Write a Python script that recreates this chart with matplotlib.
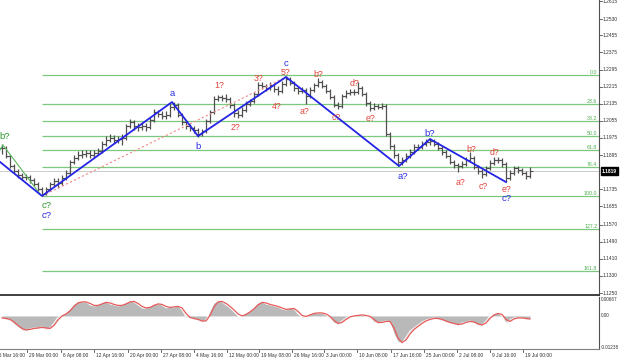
import matplotlib
matplotlib.use("Agg")
import matplotlib.pyplot as plt
import matplotlib.transforms as mtransforms
import numpy as np

# ---------------- data ----------------
closes = [1.1928, 1.1891, 1.1844, 1.1821, 1.1802, 1.1793, 1.1793, 1.1778, 1.1760, 1.1736,
          1.1713, 1.1736, 1.1760, 1.1774, 1.1764, 1.1788, 1.1811, 1.1863, 1.1881, 1.1895,
          1.1900, 1.1905, 1.1895, 1.1905, 1.1914, 1.1947, 1.1966, 1.1975, 1.1966, 1.1970,
          1.1975, 1.2031, 1.2050, 1.2031, 1.2026, 1.2031, 1.2026, 1.2059, 1.2096, 1.2087,
          1.2078, 1.2082, 1.2120, 1.2129, 1.2082, 1.2050, 1.2031, 1.2022, 1.2012, 1.1994,
          1.2008, 1.2054, 1.2096, 1.2157, 1.2167, 1.2162, 1.2157, 1.2129, 1.2092, 1.2082,
          1.2106, 1.2134, 1.2148, 1.2181, 1.2223, 1.2218, 1.2209, 1.2223, 1.2204, 1.2195,
          1.2227, 1.2251, 1.2232, 1.2209, 1.2195, 1.2199, 1.2171, 1.2199, 1.2223, 1.2237,
          1.2218, 1.2195, 1.2167, 1.2129, 1.2124, 1.2171, 1.2185, 1.2190, 1.2190, 1.2209,
          1.2181, 1.2139, 1.2115, 1.2124, 1.2120, 1.2124, 1.1994, 1.1937, 1.1895, 1.1863,
          1.1872, 1.1891, 1.1909, 1.1933, 1.1933, 1.1947, 1.1956, 1.1961, 1.1947, 1.1928,
          1.1909, 1.1891, 1.1863, 1.1849, 1.1844, 1.1853, 1.1872, 1.1881, 1.1839, 1.1821,
          1.1807, 1.1835, 1.1858, 1.1872, 1.1872, 1.1853, 1.1788, 1.1811, 1.1835, 1.1825,
          1.1811, 1.1797, 1.1819]

highs = [1.1947, 1.1937, 1.1895, 1.1853, 1.1830, 1.1811, 1.1807, 1.1802, 1.1788, 1.1769,
         1.1746, 1.1746, 1.1769, 1.1788, 1.1788, 1.1802, 1.1825, 1.1872, 1.1895, 1.1914,
         1.1919, 1.1919, 1.1919, 1.1919, 1.1928, 1.1961, 1.1984, 1.1994, 1.1989, 1.1984,
         1.1994, 1.2040, 1.2064, 1.2059, 1.2045, 1.2050, 1.2045, 1.2073, 1.2110, 1.2106,
         1.2101, 1.2101, 1.2134, 1.2143, 1.2139, 1.2092, 1.2059, 1.2040, 1.2031, 1.2022,
         1.2017, 1.2064, 1.2106, 1.2171, 1.2176, 1.2176, 1.2181, 1.2167, 1.2139, 1.2106,
         1.2120, 1.2148, 1.2157, 1.2190, 1.2237, 1.2237, 1.2227, 1.2237, 1.2232, 1.2218,
         1.2241, 1.2265, 1.2260, 1.2241, 1.2218, 1.2213, 1.2209, 1.2213, 1.2232, 1.2255,
         1.2246, 1.2227, 1.2204, 1.2176, 1.2143, 1.2181, 1.2199, 1.2204, 1.2204, 1.2237,
         1.2218, 1.2190, 1.2148, 1.2139, 1.2134, 1.2139, 1.2134, 1.2003, 1.1947, 1.1905,
         1.1886, 1.1905, 1.1923, 1.1947, 1.1947, 1.1961, 1.1970, 1.1975, 1.1970, 1.1956,
         1.1937, 1.1919, 1.1900, 1.1872, 1.1858, 1.1867, 1.1886, 1.1909, 1.1891, 1.1849,
         1.1830, 1.1844, 1.1872, 1.1886, 1.1886, 1.1881, 1.1863, 1.1825, 1.1844, 1.1844,
         1.1835, 1.1821, 1.1839]

lows = [1.1900, 1.1881, 1.1835, 1.1811, 1.1788, 1.1778, 1.1778, 1.1764, 1.1750, 1.1727,
        1.1704, 1.1708, 1.1727, 1.1750, 1.1741, 1.1755, 1.1778, 1.1802, 1.1853, 1.1872,
        1.1881, 1.1886, 1.1881, 1.1881, 1.1895, 1.1905, 1.1937, 1.1956, 1.1951, 1.1951,
        1.1942, 1.1966, 1.2022, 1.2012, 1.2008, 1.2012, 1.2008, 1.2017, 1.2050, 1.2073,
        1.2064, 1.2064, 1.2073, 1.2106, 1.2073, 1.2036, 1.2017, 1.2008, 1.1998, 1.1980,
        1.1984, 1.1998, 1.2045, 1.2087, 1.2148, 1.2148, 1.2143, 1.2115, 1.2073, 1.2068,
        1.2073, 1.2096, 1.2124, 1.2139, 1.2171, 1.2204, 1.2195, 1.2199, 1.2190, 1.2176,
        1.2185, 1.2218, 1.2223, 1.2195, 1.2181, 1.2185, 1.2134, 1.2162, 1.2190, 1.2213,
        1.2209, 1.2185, 1.2157, 1.2120, 1.2110, 1.2115, 1.2162, 1.2176, 1.2176, 1.2181,
        1.2171, 1.2124, 1.2101, 1.2106, 1.2110, 1.2110, 1.1984, 1.1923, 1.1881, 1.1844,
        1.1849, 1.1863, 1.1881, 1.1900, 1.1919, 1.1923, 1.1937, 1.1942, 1.1937, 1.1919,
        1.1895, 1.1881, 1.1853, 1.1835, 1.1816, 1.1835, 1.1844, 1.1863, 1.1830, 1.1807,
        1.1788, 1.1797, 1.1825, 1.1849, 1.1858, 1.1839, 1.1769, 1.1778, 1.1802, 1.1811,
        1.1802, 1.1783, 1.1788]

osc = [-0.00079, -0.00119, -0.00159, -0.00318, -0.00437, -0.00556, -0.00556, -0.00516, -0.00476, -0.00476,
       -0.00437, -0.00516, -0.00476, -0.00278, -0.00040, 0.00040, 0.00119, 0.00278, 0.00476, 0.00556,
       0.00556, 0.00556, 0.00437, 0.00397, 0.00437, 0.00516, 0.00556, 0.00476, 0.00437, 0.00397,
       0.00437, 0.00516, 0.00596, 0.00556, 0.00437, 0.00318, 0.00318, 0.00357, 0.00476, 0.00476,
       0.00437, 0.00318, 0.00357, 0.00357, 0.00397, 0.00238, -0.00040, -0.00079, -0.00119, -0.00159,
       -0.00238, -0.00159, 0.00199, 0.00516, 0.00596, 0.00556, 0.00437, 0.00318, 0.00159, 0.0,
       0.0, 0.00119, 0.00199, 0.00357, 0.00516, 0.00556, 0.00476, 0.00437, 0.00397, 0.00357,
       0.00278, 0.00238, 0.00318, 0.00278, 0.00079, -0.00040, 0.0, 0.00079, 0.00119, 0.00119,
       0.00119, 0.00040, -0.00079, -0.00278, -0.00318, -0.00199, -0.00079, 0.0, 0.0, 0.00040,
       0.00040, 0.0, -0.00040, -0.00238, -0.00278, -0.00238, -0.00199, -0.00238, -0.00715, -0.01032,
       -0.01072, -0.00834, -0.00596, -0.00476, -0.00357, -0.00238, -0.00159, -0.00119, -0.00079, -0.00119,
       -0.00159, -0.00238, -0.00278, -0.00318, -0.00357, -0.00278, -0.00238, -0.00199, -0.00278, -0.00357,
       -0.00357, -0.00199, 0.0, 0.00079, 0.00119, 0.0, -0.00278, -0.00159, -0.00079, -0.00079,
       -0.00079, -0.00119, -0.00119]

# wave structure (blue)
wave_bars = [-0.5, 10, 42.5, 49, 71, 99.25, 107, 126]
wave_prices = [1.1863, 1.1704, 1.2143, 1.1984, 1.2260, 1.1844, 1.1970, 1.1769]
# previous wave (green)
green_bars = [-0.5, 0.25, 9.5]
green_prices = [1.1919, 1.1942, 1.1713]
# dotted channel line (red)
dotted_bars = [10, 71]
dotted_prices = [1.1704, 1.2260]

# fibonacci grid
fib_levels = [0.0, 23.6, 38.2, 50.0, 61.8, 76.4, 100.0, 127.2, 161.8]
fib_high = 1.2269
fib_low = 1.1704
fib_start_bar = 10

# labels: (bar, price, text)
blue_labels = [(42.5, 1.2185, "a"), (49, 1.1937, "b"), (71, 1.2325, "c"),
               (100.25, 1.1793, "a?"), (107, 1.1998, "b?"), (126.25, 1.1694, "c?"),
               (11.25, 1.1614, "c?")]
green_labels = [(0.75, 1.1980, "b?"), (11.25, 1.1660, "c?")]
red_labels = [(54.25, 1.2218, "1?"), (58.25, 1.2026, "2?"), (64.25, 1.2255, "3?"),
              (68.75, 1.2120, "4?"), (71, 1.2283, "5?"), (75.75, 1.2101, "a?"),
              (79, 1.2274, "b?"), (83.5, 1.2073, "c?"), (88, 1.2232, "d?"),
              (92.25, 1.2068, "e?"), (114.75, 1.1769, "a?"), (117.25, 1.1923, "b?"),
              (120.25, 1.1746, "c?"), (123.25, 1.1905, "d?"), (126, 1.1736, "e?")]

current_price = 1.1819
price_ticks = [1.2615, 1.2530, 1.2455, 1.2375, 1.2295, 1.2215, 1.2135, 1.2055, 1.1975,
               1.1895, 1.1735, 1.1655, 1.1570, 1.1490, 1.1410, 1.1330, 1.1250]
osc_ticks = [0.00667, 0.0, -0.01238]
osc_tick_labels = ["0.00667", "0.00", "-0.01238"]
date_ticks = [-2, 6.25, 14.75, 23, 31.5, 39.75, 48, 56.25, 64.25, 72.5, 80.5, 88.75,
              97.25, 105.5, 113.75, 122, 130.25]
date_labels = ["26 Mar 16:00", "29 Mar 00:00", "6 Apr 08:00", "12 Apr 16:00", "20 Apr 00:00",
               "27 Apr 08:00", "4 May 16:00", "12 May 00:00", "19 May 08:00", "26 May 16:00",
               "3 Jun 00:00", "10 Jun 08:00", "17 Jun 16:00", "25 Jun 00:00", "2 Jul 08:00",
               "9 Jul 16:00", "19 Jul 00:00"]

# ---------------- figure ----------------
W, H = 620, 361
fig = plt.figure(figsize=(W / 100, H / 100), dpi=100)
fig.patch.set_facecolor("white")

ax_right = 599 / W
ax = fig.add_axes([0, 1 - 295 / H, ax_right, 295 / H])
ax2 = fig.add_axes([0, 12 / H, ax_right, 52 / H])

xlim = (-0.5, 149.25)
for a in (ax, ax2):
    a.set_xlim(*xlim)
    a.set_facecolor("white")
    for s in ("top", "left"):
        a.spines[s].set_visible(False)
    a.spines["right"].set_color("#505050")
    a.spines["right"].set_linewidth(0.8)
    a.set_xticks([])
    a.set_yticks([])

ax.set_ylim(1.1241, 1.2620)
ax.spines["bottom"].set_color("#303030")
ax.spines["bottom"].set_linewidth(1.3)

ax2.set_ylim(-0.0131, 0.0075)
ax2.spines["bottom"].set_color("#808080")
ax2.spines["bottom"].set_linewidth(0.8)

idx = np.arange(len(closes))
closes_a = np.array(closes)
opens_a = np.concatenate([[closes[0]], closes_a[:-1]])

axis_font = "Liberation Sans"

# fibonacci lines
fib_color = "#7cc87c"
rng = fib_high - fib_low
for lv in fib_levels:
    p = fib_high - lv / 100.0 * rng
    ax.plot([fib_start_bar, xlim[1]], [p, p], color=fib_color, lw=0.9, zorder=1,
            solid_capstyle="butt")
    ax.text(xlim[1] - 0.4, p, f"{lv:.1f}", color="#4caf50", fontsize=3.8,
            ha="right", va="bottom", family=axis_font, zorder=2)

# current price line
ax.axhline(current_price, color="#cccccc", lw=0.7, zorder=1)

# price bars
bar_col = "#505050"
ax.vlines(idx, lows, highs, color=bar_col, lw=0.9, zorder=3)
ax.hlines(opens_a, idx - 0.7, idx, color=bar_col, lw=0.8, zorder=3)
ax.hlines(closes_a, idx, idx + 0.7, color=bar_col, lw=0.8, zorder=3)

# wave lines
ax.plot(dotted_bars, dotted_prices, color="#f08a8a", lw=0.8, ls=(0, (2, 2)), zorder=4)
ax.plot(green_bars, green_prices, color="#5cb85c", lw=0.8, zorder=4)
ax.plot(wave_bars, wave_prices, color="#2424e6", lw=1.3, zorder=5)

lab_font = "Liberation Sans"
for b, p, t in blue_labels:
    ax.text(b, p, t, color="#2a2ae0", fontsize=6.8, ha="center", va="center",
            family=lab_font, zorder=6)
for b, p, t in green_labels:
    ax.text(b, p, t, color="#2e9a2e", fontsize=6.8, ha="center", va="center",
            family=lab_font, zorder=6)
for b, p, t in red_labels:
    ax.text(b, p, t, color="#e0463c", fontsize=6.3, ha="center", va="center",
            family=lab_font, zorder=6)

# right price axis
trans_r = mtransforms.blended_transform_factory(ax.transAxes, ax.transData)
for p in price_ticks:
    ax.plot([1.0, 1.0 + 2.5 / 599], [p, p], transform=trans_r, color="#505050", lw=0.6,
            clip_on=False)
    ax.text(1.0 + 4 / 599, p, f"{p:.4f}", transform=trans_r, fontsize=3.5,
            color="#303030", ha="left", va="center", family=axis_font, clip_on=False)
ax.text(1.0 + 3 / 599, current_price, f"{current_price:.4f}", transform=trans_r,
        fontsize=3.5, color="white", ha="left", va="center", family=axis_font,
        fontweight="bold", clip_on=False,
        bbox=dict(boxstyle="square,pad=0.3", fc="black", ec="black"))

# oscillator
osc_a = np.array(osc)
signal = np.convolve(np.concatenate([[osc[0]], osc_a]), np.ones(2) / 2, mode="valid")
ax2.fill_between(idx, 0, osc_a, color="#b9b9b9", lw=0, zorder=2)
ax2.plot(idx, osc_a, color="white", lw=0.6, zorder=3)
ax2.plot(idx, signal, color="#e85a5a", lw=0.9, zorder=4)

trans_r2 = mtransforms.blended_transform_factory(ax2.transAxes, ax2.transData)
for v, t in zip(osc_ticks, osc_tick_labels):
    ax2.text(1.0 + 2 / 599, v, t, transform=trans_r2, fontsize=3.3, color="#303030",
             ha="left", va="center", family=axis_font, clip_on=False)

# date axis
trans_b = mtransforms.blended_transform_factory(ax2.transData, ax2.transAxes)
for d, t in zip(date_ticks, date_labels):
    ax2.plot([d, d], [0, -3 / 52], transform=trans_b, color="#505050", lw=0.6,
             clip_on=False)
    ax2.text(d + 0.4, -0.08, t, transform=trans_b, fontsize=3.5, color="#303030",
             ha="left", va="top", family=axis_font, clip_on=False)

fig.savefig("out.png", dpi=100, facecolor="white")
